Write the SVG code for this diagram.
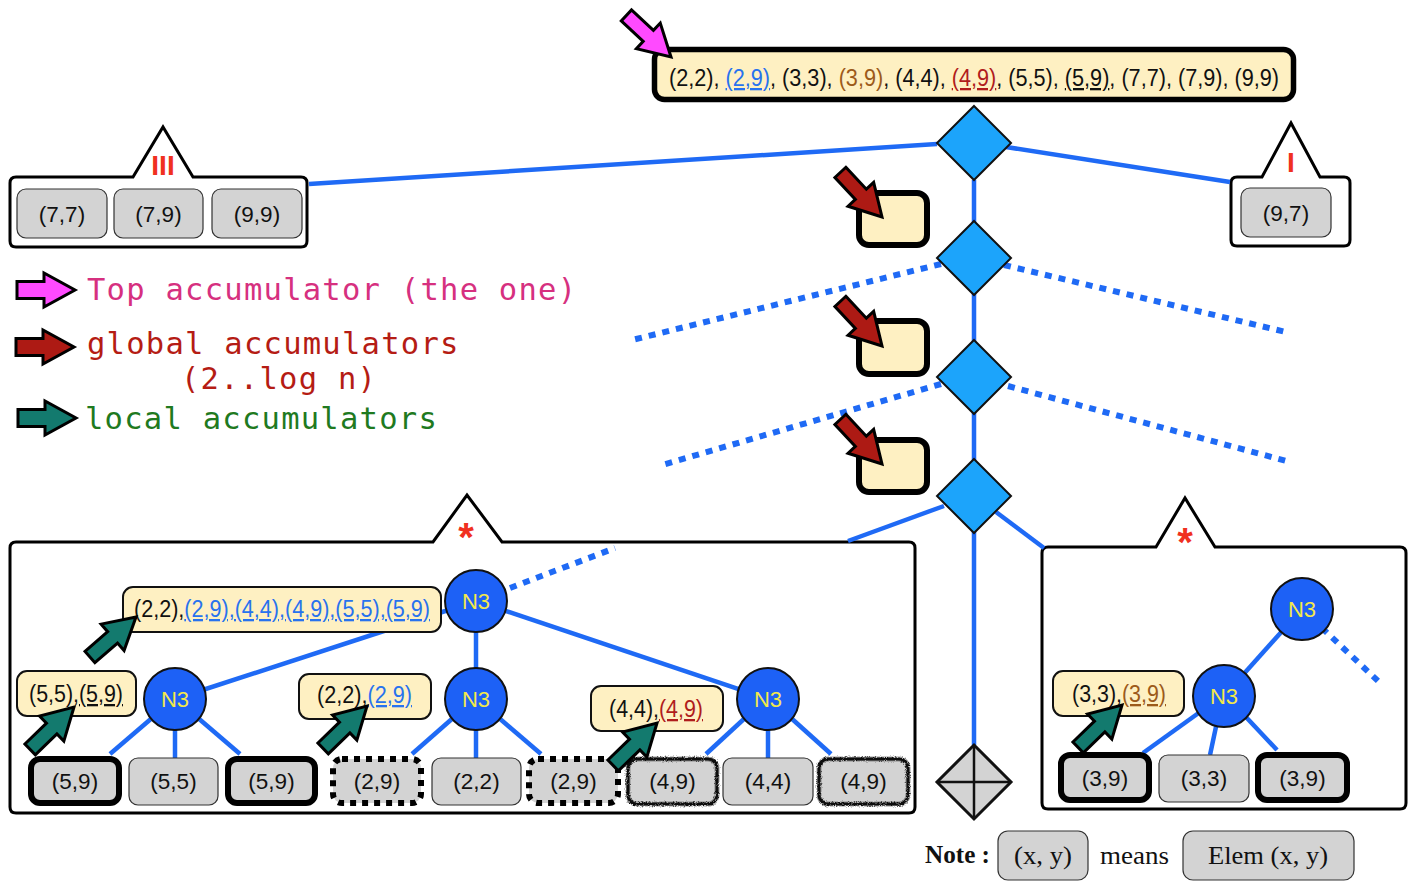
<svg xmlns="http://www.w3.org/2000/svg" xmlns:xlink="http://www.w3.org/1999/xlink" width="1414" height="892" viewBox="0 0 1414 892">
<style>
.sans{font-family:"Liberation Sans",Arial,sans-serif;}
.leaf{font-family:"Liberation Sans",Arial,sans-serif;font-size:22.5px;fill:#111;text-anchor:middle;}
.acc{font-family:"Liberation Sans",Arial,sans-serif;font-size:23px;fill:#111;}
.n3t{font-family:"Liberation Sans",Arial,sans-serif;font-size:22px;fill:#f3e84a;text-anchor:middle;}
.mono{font-family:"DejaVu Sans Mono","Liberation Mono",monospace;font-size:30.5px;letter-spacing:1.25px;}
.gray{fill:#d3d3d3;stroke:#333;stroke-width:1.2;}
.bold{fill:#d3d3d3;stroke:#000;stroke-width:6;}
.dot{fill:#d3d3d3;stroke:#000;stroke-width:6;stroke-dasharray:6 6;}
.yel{fill:#fef0c2;stroke:#111;stroke-width:2;}
.yelb{fill:#fef0c2;stroke:#000;stroke-width:6;}
.dia{fill:#1ca4fb;stroke:#111;stroke-width:2;}
.n3{fill:#1d61f6;stroke:#111;stroke-width:2;}
.panel{fill:#fff;stroke:#000;stroke-width:3;stroke-linejoin:miter;}
.ln{stroke:#1f6af5;stroke-width:4.5;fill:none;}
.dl{stroke:#1f6af5;stroke-width:6;fill:none;stroke-dasharray:7 7;}
.ar{stroke:#000;stroke-width:3;stroke-linejoin:miter;}
.blue{fill:#2872ee;}
.brown{fill:#9c5a1a;}
.red{fill:#b01c1c;}
.star{font-family:"Liberation Sans",Arial,sans-serif;font-size:40px;font-weight:bold;fill:#f03020;text-anchor:middle;}
.roman{font-family:"Liberation Sans",Arial,sans-serif;font-size:28px;font-weight:bold;fill:#f03020;text-anchor:middle;}
.serif{font-family:"Liberation Serif","Times New Roman",serif;font-size:25px;fill:#111;}
</style>
<defs>
<polygon id="darr" points="-61,-7.5 -31,-7.5 -31,-17.5 0,0 -31,17.5 -31,7.5 -61,7.5"/>
<polygon id="harr" points="0,-8.5 27,-8.5 27,-17 58,0 27,17 27,8.5 0,8.5"/>
<filter id="rough" x="-10%" y="-15%" width="120%" height="130%">
<feTurbulence type="fractalNoise" baseFrequency="0.9" numOctaves="2" seed="3" result="n"/>
<feDisplacementMap in="SourceGraphic" in2="n" scale="3.5" xChannelSelector="R" yChannelSelector="G"/>
</filter>
</defs>
<rect x="0" y="0" width="1414" height="892" fill="#fff"/>

<g id="panels">
<path id="panel-III" class="panel" d="M16,177 H133 L163,127 L193,177 H301 Q307,177 307,183 V241 Q307,247 301,247 H16 Q10,247 10,241 V183 Q10,177 16,177 Z"/>
<path id="panel-I" class="panel" d="M1237,177 H1262 L1291,123 L1320,177 H1344 Q1350,177 1350,183 V240 Q1350,246 1344,246 H1237 Q1231,246 1231,240 V183 Q1231,177 1237,177 Z"/>
<path id="panel-left" class="panel" d="M16,542 H433 L467,495 L502,542 H909 Q915,542 915,548 V807 Q915,813 909,813 H16 Q10,813 10,807 V548 Q10,542 16,542 Z"/>
<path id="panel-right" class="panel" d="M1048,547 H1156 L1185,498 L1215,547 H1400 Q1406,547 1406,553 V803 Q1406,809 1400,809 H1048 Q1042,809 1042,803 V553 Q1042,547 1048,547 Z"/>
<text class="roman" x="163" y="175">III</text>
<text class="roman" x="1291" y="172">I</text>
<text class="star" x="466" y="551">*</text>
<text class="star" x="1185" y="556">*</text>
</g>

<g id="connectors">
<line class="ln" x1="974" y1="180" x2="974" y2="745"/>
<line class="ln" x1="937" y1="144" x2="309" y2="184"/>
<line class="ln" x1="1006" y1="147" x2="1230" y2="182"/>
<line class="dl" x1="941" y1="264" x2="632" y2="340"/>
<line class="dl" x1="1004" y1="265" x2="1290" y2="333"/>
<line class="dl" x1="941" y1="384" x2="662" y2="465"/>
<line class="dl" x1="1008" y1="386" x2="1290" y2="462"/>
<line class="ln" x1="944" y1="506" x2="848" y2="541"/>
<line class="ln" x1="996" y1="512" x2="1044" y2="548"/>
<line class="dl" x1="510" y1="588" x2="615" y2="548"/>
<line class="ln" x1="175" y1="699" x2="476" y2="601"/>
<line class="ln" x1="476" y1="601" x2="476" y2="699"/>
<line class="ln" x1="476" y1="601" x2="768" y2="699"/>
<line class="ln" x1="152" y1="718" x2="110" y2="754"/>
<line class="ln" x1="175" y1="725" x2="175" y2="758"/>
<line class="ln" x1="198" y1="718" x2="240" y2="754"/>
<line class="ln" x1="453" y1="718" x2="412" y2="754"/>
<line class="ln" x1="476" y1="725" x2="476" y2="758"/>
<line class="ln" x1="499" y1="718" x2="541" y2="754"/>
<line class="ln" x1="745" y1="718" x2="706" y2="754"/>
<line class="ln" x1="768" y1="725" x2="768" y2="758"/>
<line class="ln" x1="791" y1="718" x2="831" y2="754"/>
<line class="dl" x1="1322" y1="628" x2="1378" y2="681"/>
<line class="ln" x1="1302" y1="609" x2="1224" y2="696"/>
<line class="ln" x1="1200" y1="712" x2="1143" y2="753"/>
<line class="ln" x1="1217" y1="722" x2="1210" y2="755"/>
<line class="ln" x1="1245" y1="716" x2="1277" y2="750"/>
</g>

<g id="top-accumulator">
<rect x="654.5" y="49.5" width="639" height="50" rx="10" fill="#fef0c2" stroke="#000" stroke-width="5.5"/>
<text class="sans" x="669" y="86" font-size="23" fill="#111" textLength="610" lengthAdjust="spacingAndGlyphs">(2,2), <tspan class="blue" text-decoration="underline">(2,9)</tspan>, (3,3), <tspan class="brown">(3,9)</tspan>, (4,4), <tspan class="red" text-decoration="underline">(4,9)</tspan>, (5,5), <tspan text-decoration="underline">(5,9)</tspan>, (7,7), (7,9), (9,9)</text>
<use xlink:href="#darr" class="ar" fill="#ff4aff" transform="translate(671,57) rotate(43)"/>
</g>

<g id="leaves-III">
<rect class="gray" x="17" y="189" width="90" height="49" rx="9"/>
<text class="leaf" x="62" y="222">(7,7)</text>
<rect class="gray" x="114" y="189" width="89" height="49" rx="9"/>
<text class="leaf" x="158.5" y="222">(7,9)</text>
<rect class="gray" x="212" y="189" width="90" height="49" rx="9"/>
<text class="leaf" x="257" y="222">(9,9)</text>
</g>
<g id="leaf-I">
<rect class="gray" x="1241" y="188" width="90" height="49" rx="9"/>
<text class="leaf" x="1286" y="221">(9,7)</text>
</g>

<g id="diamonds">
<polygon class="dia" points="974,106 1011,143 974,180 937,143"/>
<polygon class="dia" points="974,221 1011,258 974,295 937,258"/>
<polygon class="dia" points="974,340 1011,377 974,414 937,377"/>
<polygon class="dia" points="974,459 1011,496 974,533 937,496"/>
<g id="leaf-diamond">
<polygon points="974,745 1011,782 974,819 937,782" fill="#d3d3d3" stroke="#111" stroke-width="3"/>
<line x1="974" y1="745" x2="974" y2="819" stroke="#111" stroke-width="2.5"/>
<line x1="937" y1="782" x2="1011" y2="782" stroke="#111" stroke-width="2.5"/>
</g>
</g>

<g id="global-accumulators">
<rect class="yelb" x="859" y="193" width="68" height="52" rx="10"/>
<use xlink:href="#darr" class="ar" fill="#ad1a14" transform="translate(882,217) rotate(47)"/>
<rect class="yelb" x="859" y="321" width="68" height="53" rx="10"/>
<use xlink:href="#darr" class="ar" fill="#ad1a14" transform="translate(882,346) rotate(47)"/>
<rect class="yelb" x="859" y="440" width="68" height="52" rx="10"/>
<use xlink:href="#darr" class="ar" fill="#ad1a14" transform="translate(882,464) rotate(47)"/>
</g>

<g id="legend">
<use xlink:href="#harr" class="ar" fill="#ff4aff" transform="translate(17,290)"/>
<text class="mono" x="87" y="300" fill="#d6307f">Top accumulator (the one)</text>
<use xlink:href="#harr" class="ar" fill="#ad1a14" transform="translate(16,347)"/>
<text class="mono" x="87" y="354" fill="#b51c14">global accumulators</text>
<text class="mono" x="181" y="389" fill="#b51c14">(2..log n)</text>
<use xlink:href="#harr" class="ar" fill="#137a6e" transform="translate(18,418)"/>
<text class="mono" x="85" y="429" fill="#1f7a1f">local accumulators</text>
</g>

<g id="left-subtree">
<g id="n3-top-left"><circle class="n3" cx="476" cy="601" r="31"/><text class="n3t" x="476" y="609">N3</text></g>
<g id="n3-a"><circle class="n3" cx="175" cy="699" r="31"/><text class="n3t" x="175" y="707">N3</text></g>
<g id="n3-b"><circle class="n3" cx="476" cy="699" r="31"/><text class="n3t" x="476" y="707">N3</text></g>
<g id="n3-c"><circle class="n3" cx="768" cy="699" r="31"/><text class="n3t" x="768" y="707">N3</text></g>

<g id="acc-big">
<rect class="yel" x="123" y="587" width="318" height="45" rx="10"/>
<text class="acc" x="134" y="617" textLength="296" lengthAdjust="spacingAndGlyphs">(2,2),<tspan class="blue" text-decoration="underline">(2,9),(4,4),(4,9),(5,5),(5,9)</tspan></text>
</g>
<g id="acc-55">
<rect class="yel" x="17" y="671" width="119" height="45" rx="10"/>
<text class="acc" x="29" y="702" textLength="94" lengthAdjust="spacingAndGlyphs">(5,5),<tspan text-decoration="underline">(5,9)</tspan></text>
</g>
<g id="acc-22">
<rect class="yel" x="299" y="674" width="132" height="45" rx="10"/>
<text class="acc" x="317" y="703" textLength="95" lengthAdjust="spacingAndGlyphs">(2,2),<tspan class="blue" text-decoration="underline">(2,9)</tspan></text>
</g>
<g id="acc-44">
<rect class="yel" x="591" y="686" width="132" height="45" rx="10"/>
<text class="acc" x="609" y="717" textLength="94" lengthAdjust="spacingAndGlyphs">(4,4),<tspan class="red" text-decoration="underline">(4,9)</tspan></text>
</g>

<g id="leaves-left">
<rect class="bold" x="31" y="759" width="88" height="44" rx="9"/>
<text class="leaf" x="75" y="789">(5,9)</text>
<rect class="gray" x="129" y="758" width="89" height="47" rx="9"/>
<text class="leaf" x="173.5" y="789">(5,5)</text>
<rect class="bold" x="228" y="759" width="87" height="44" rx="9"/>
<text class="leaf" x="271.5" y="789">(5,9)</text>
<rect class="dot" x="333" y="759" width="88" height="44" rx="9"/>
<text class="leaf" x="377" y="789">(2,9)</text>
<rect class="gray" x="432" y="758" width="89" height="47" rx="9"/>
<text class="leaf" x="476.5" y="789">(2,2)</text>
<rect class="dot" x="529" y="759" width="89" height="44" rx="9"/>
<text class="leaf" x="573.5" y="789">(2,9)</text>
<rect x="628" y="759" width="89" height="45" rx="9" fill="#d3d3d3"/>
<g filter="url(#rough)"><rect x="628" y="759" width="89" height="45" rx="9" fill="none" stroke="#555" stroke-width="5" opacity="0.6"/><rect x="628" y="759" width="89" height="45" rx="9" fill="none" stroke="#111" stroke-width="3"/></g>
<text class="leaf" x="672.5" y="789">(4,9)</text>
<rect class="gray" x="723" y="758" width="90" height="47" rx="9"/>
<text class="leaf" x="768" y="789">(4,4)</text>
<rect x="819" y="759" width="89" height="45" rx="9" fill="#d3d3d3"/>
<g filter="url(#rough)"><rect x="819" y="759" width="89" height="45" rx="9" fill="none" stroke="#555" stroke-width="5" opacity="0.6"/><rect x="819" y="759" width="89" height="45" rx="9" fill="none" stroke="#111" stroke-width="3"/></g>
<text class="leaf" x="863.5" y="789">(4,9)</text>
</g>

<g id="local-arrows-left">
<use xlink:href="#darr" class="ar" fill="#137a6e" transform="translate(136,617) rotate(-41)"/>
<use xlink:href="#darr" class="ar" fill="#137a6e" transform="translate(74,707) rotate(-44)"/>
<use xlink:href="#darr" class="ar" fill="#137a6e" transform="translate(367,706) rotate(-44)"/>
<use xlink:href="#darr" class="ar" fill="#137a6e" transform="translate(657,723) rotate(-44)"/>
</g>
</g>

<g id="right-subtree">
<g id="n3-top-right"><circle class="n3" cx="1302" cy="609" r="31"/><text class="n3t" x="1302" y="617">N3</text></g>
<g id="n3-d"><circle class="n3" cx="1224" cy="696" r="31"/><text class="n3t" x="1224" y="704">N3</text></g>
<g id="acc-33">
<rect class="yel" x="1053" y="671" width="131" height="45" rx="10"/>
<text class="acc" x="1072" y="702" textLength="94" lengthAdjust="spacingAndGlyphs">(3,3),<tspan class="brown" text-decoration="underline">(3,9)</tspan></text>
</g>
<rect class="bold" x="1061" y="755" width="88" height="45" rx="9"/>
<text class="leaf" x="1105" y="786">(3,9)</text>
<rect class="gray" x="1159" y="755" width="90" height="47" rx="9"/>
<text class="leaf" x="1204" y="786">(3,3)</text>
<rect class="bold" x="1258" y="755" width="89" height="45" rx="9"/>
<text class="leaf" x="1302.5" y="786">(3,9)</text>
<use xlink:href="#darr" class="ar" fill="#137a6e" transform="translate(1122,705) rotate(-44)"/>
</g>

<g id="note">
<text class="serif" x="925" y="863" font-weight="bold" font-size="23" textLength="65" lengthAdjust="spacingAndGlyphs">Note :</text>
<rect class="gray" x="998" y="831" width="90" height="49" rx="10"/>
<text class="serif" x="1014" y="864" textLength="58" lengthAdjust="spacingAndGlyphs">(x, y)</text>
<text class="serif" x="1100" y="864" textLength="69" lengthAdjust="spacingAndGlyphs">means</text>
<rect class="gray" x="1183" y="831" width="171" height="49" rx="10"/>
<text class="serif" x="1208" y="864" textLength="120" lengthAdjust="spacingAndGlyphs">Elem (x, y)</text>
</g>
</svg>
